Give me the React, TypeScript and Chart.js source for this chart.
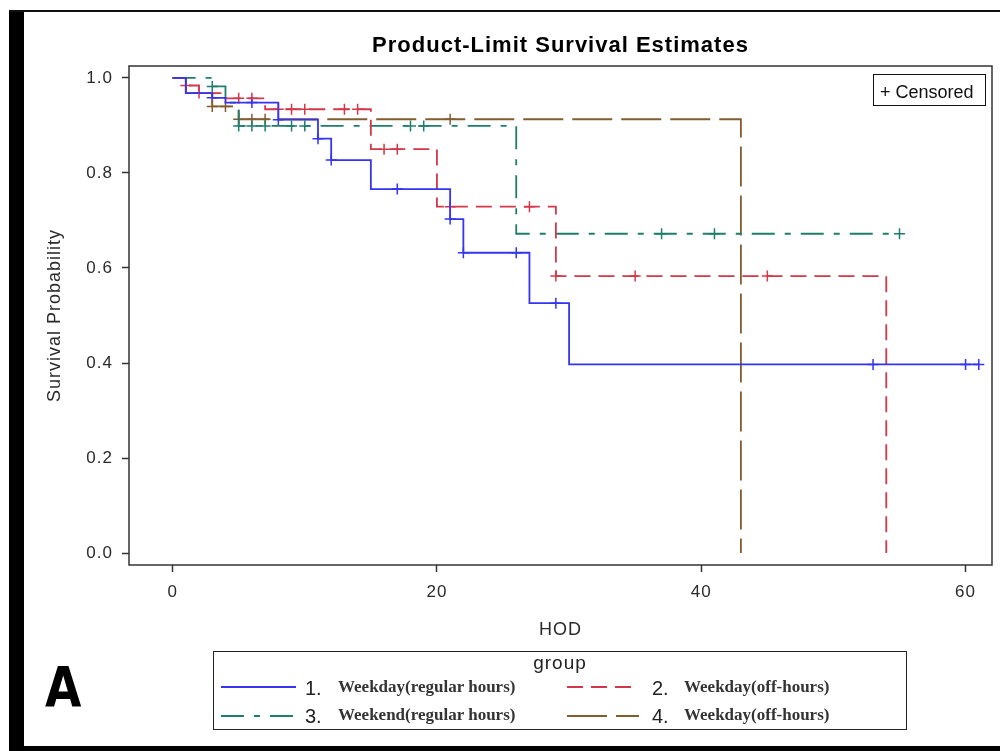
import React, { useEffect, useRef } from 'react';
import { Chart, registerables } from 'chart.js';

Chart.register(...registerables);

// ---- axis settings ----
const xTickValues = [0, 20, 40, 60];
const yTickValues = [0, 0.2, 0.4, 0.6, 0.8, 1.0];
const xMin = -3.3;
const xMax = 62;
const yMin = -0.025;
const yMax = 1.025;

// ---- group labels / styles ----
const groupNumbers = ['1.', '2.', '3.', '4.'];
const groupLabels = ['Weekday(regular hours)', 'Weekday(off-hours)', 'Weekend(regular hours)', 'Weekday(off-hours)'];
const groupColors = ['#3434F2', '#D3374A', '#1F7D6E', '#855C2E'];
const groupDashes: number[][] = [[], [16, 8], [23, 10, 6, 10], [40, 9]];

// ---- Group 1: Weekday(regular hours) ----
const g1Times = [0, 1, 3, 4, 8, 11, 12, 15, 21, 22, 27, 30, 61];
const g1Surv = [1.0, 0.968, 0.958, 0.948, 0.912, 0.872, 0.827, 0.766, 0.703, 0.632, 0.526, 0.397, 0.397];
const g1Censor = [3, 6, 8, 11, 12, 17, 21, 22, 26, 29, 53, 60, 61];

// ---- Group 2: Weekday(off-hours) ----
const g2Times = [0, 1, 2, 4, 7, 15, 20, 29, 54];
const g2Surv = [1.0, 0.984, 0.968, 0.957, 0.934, 0.85, 0.729, 0.583, 0];
const g2Censor = [1, 2, 5, 6, 8, 9, 10, 13, 14, 16, 17, 21, 27, 29, 35, 45];

// ---- Group 3: Weekend(regular hours) ----
const g3Times = [0, 3, 4, 5, 26, 55];
const g3Surv = [1.0, 0.982, 0.948, 0.899, 0.672, 0.672];
const g3Censor = [3, 5, 6, 7, 9, 10, 18, 19, 37, 41, 55];

// ---- Group 4: Weekday(off-hours) ----
const g4Times = [0, 1, 3, 5, 43];
const g4Surv = [1.0, 0.968, 0.94, 0.913, 0];
const g4Censor = [3, 4, 5, 6, 7, 21];

const groupTimes = [g1Times, g2Times, g3Times, g4Times];
const groupSurv = [g1Surv, g2Surv, g3Surv, g4Surv];
const groupCensor = [g1Censor, g2Censor, g3Censor, g4Censor];

function stepPoints(times: number[], surv: number[]) {
  return times.map((t, i) => ({ x: t, y: surv[i] }));
}

function censorPoints(times: number[], surv: number[], cens: number[]) {
  return cens.map((c) => {
    let s = surv[0];
    for (let i = 0; i < times.length; i++) {
      if (times[i] <= c) s = surv[i];
    }
    return { x: c, y: s };
  });
}

const framePlugin = {
  id: 'plotFrame',
  beforeDatasetsDraw(chart: any) {
    const { ctx, chartArea: a } = chart;
    ctx.save();
    ctx.strokeStyle = '#333';
    ctx.lineWidth = 1.5;
    ctx.strokeRect(a.left, a.top, a.right - a.left, a.bottom - a.top);
    ctx.restore();
  },
};

const spacingPlugin = {
  id: 'letterSpacing',
  beforeDraw(chart: any) {
    chart.ctx.letterSpacing = '1px';
  },
  afterDraw(chart: any) {
    chart.ctx.letterSpacing = '0px';
  },
};

const sansFamily = '"Liberation Sans", Arial, sans-serif';

export default function App() {
  const canvasRef = useRef<HTMLCanvasElement | null>(null);

  useEffect(() => {
    const canvas = canvasRef.current;
    if (!canvas) return;

    const lineSets = groupTimes.map((times, i) => ({
      label: groupLabels[i],
      data: stepPoints(times, groupSurv[i]),
      borderColor: groupColors[i],
      backgroundColor: groupColors[i],
      borderWidth: 1.8,
      borderDash: groupDashes[i],
      borderCapStyle: 'butt' as const,
      stepped: 'before' as const,
      pointRadius: 0,
      fill: false,
      tension: 0,
    }));

    const censorSets = groupTimes.map((times, i) => ({
      label: 'Censored ' + groupNumbers[i],
      data: censorPoints(times, groupSurv[i], groupCensor[i]),
      showLine: false,
      pointStyle: 'cross' as const,
      pointRadius: 5.5,
      pointBorderWidth: 1.5,
      pointBorderColor: groupColors[i],
      pointBackgroundColor: groupColors[i],
      borderColor: groupColors[i],
    }));

    const chart = new Chart(canvas, {
      type: 'line',
      data: { datasets: [...lineSets, ...censorSets] as any },
      options: {
        responsive: false,
        animation: false,
        events: [],
        layout: { padding: { left: 40, top: 66, right: 8, bottom: 106 } },
        plugins: {
          legend: { display: false },
          title: { display: false },
          tooltip: { enabled: false },
        },
        scales: {
          x: {
            type: 'linear',
            min: xMin,
            max: xMax,
            afterBuildTicks: (axis: any) => {
              axis.ticks = xTickValues.map((v) => ({ value: v }));
            },
            afterFit: (axis: any) => {
              axis.height = 80;
            },
            grid: {
              drawOnChartArea: false,
              drawTicks: true,
              tickLength: 7,
              tickColor: '#333',
              tickWidth: 1.5,
            },
            border: { display: false },
            ticks: {
              padding: 10,
              color: '#2a2a2a',
              maxRotation: 0,
              autoSkip: false,
              font: { family: sansFamily, size: 17 },
              callback: (v: any) => String(v),
            },
            title: {
              display: true,
              text: 'HOD',
              color: '#2a2a2a',
              font: { family: sansFamily, size: 18 },
              padding: { top: 4, bottom: 4 },
            },
          },
          y: {
            type: 'linear',
            min: yMin,
            max: yMax,
            afterBuildTicks: (axis: any) => {
              axis.ticks = yTickValues.map((v) => ({ value: v }));
            },
            afterFit: (axis: any) => {
              axis.width = 89;
            },
            grid: {
              drawOnChartArea: false,
              drawTicks: true,
              tickLength: 7,
              tickColor: '#333',
              tickWidth: 1.5,
            },
            border: { display: false },
            ticks: {
              padding: 9,
              color: '#2a2a2a',
              autoSkip: false,
              font: { family: sansFamily, size: 17 },
              callback: (v: any) => Number(v).toFixed(1),
            },
            title: {
              display: true,
              text: 'Survival Probability',
              color: '#2a2a2a',
              font: { family: sansFamily, size: 18 },
              padding: { top: 4, bottom: 4 },
            },
          },
        },
      } as any,
      plugins: [framePlugin, spacingPlugin],
    });

    return () => {
      chart.destroy();
    };
  }, []);

  const colLeft = [
    { sample: 221, sampleW: 75, num: 305, text: 338 },
    { sample: 567, sampleW: 72, num: 652, text: 684 },
  ];
  const rowTop = [676, 704];
  const rowLine = [687, 716];

  return (
    <div
      style={{
        position: 'absolute',
        left: 0,
        top: 0,
        width: 1000,
        height: 751,
        background: '#fff',
        overflow: 'hidden',
      }}
    >
      <canvas
        ref={canvasRef}
        width={1000}
        height={751}
        style={{ position: 'absolute', left: 0, top: 0, width: 1000, height: 751 }}
      />

      {/* outer frame */}
      <div style={{ position: 'absolute', left: 9, top: 10, width: 15, height: 741, background: '#000' }} />
      <div style={{ position: 'absolute', left: 9, top: 10, width: 991, height: 2, background: '#111' }} />
      <div style={{ position: 'absolute', left: 9, top: 746, width: 991, height: 5, background: '#000' }} />

      {/* title */}
      <div
        style={{
          position: 'absolute',
          left: 160,
          top: 32,
          width: 801,
          textAlign: 'center',
          fontFamily: sansFamily,
          fontWeight: 'bold',
          fontSize: 22,
          lineHeight: '26px',
          letterSpacing: '1px',
          color: '#000',
          whiteSpace: 'nowrap',
        }}
      >
        Product-Limit Survival Estimates
      </div>

      {/* censored box */}
      <div
        style={{
          position: 'absolute',
          left: 873,
          top: 74,
          width: 113,
          height: 32,
          border: '1.5px solid #111',
          boxSizing: 'border-box',
        }}
      />
      <div
        style={{
          position: 'absolute',
          left: 880,
          top: 81,
          fontFamily: sansFamily,
          fontSize: 18,
          lineHeight: '22px',
          color: '#111',
          whiteSpace: 'nowrap',
        }}
      >
        + Censored
      </div>

      {/* panel letter */}
      <div
        style={{
          position: 'absolute',
          left: 45,
          top: 659,
          fontFamily: '"DejaVu Sans", sans-serif',
          fontWeight: 'bold',
          fontSize: 56,
          lineHeight: 1,
          color: '#000',
          transform: 'scaleX(0.84)',
          transformOrigin: 'left top',
        }}
      >
        A
      </div>

      {/* legend */}
      <div
        style={{
          position: 'absolute',
          left: 213,
          top: 651,
          width: 694,
          height: 79,
          border: '1.5px solid #222',
          boxSizing: 'border-box',
        }}
      />
      <div
        style={{
          position: 'absolute',
          left: 213,
          top: 652,
          width: 694,
          textAlign: 'center',
          fontFamily: sansFamily,
          fontSize: 19,
          lineHeight: '22px',
          letterSpacing: '1px',
          color: '#222',
        }}
      >
        group
      </div>
      {groupLabels.map((label, i) => {
        const c = colLeft[i % 2];
        const r = Math.floor(i / 2);
        return (
          <React.Fragment key={i}>
            <svg
              width={c.sampleW}
              height={6}
              style={{ position: 'absolute', left: c.sample, top: rowLine[r] - 3 }}
            >
              <line
                x1={0}
                y1={3}
                x2={c.sampleW}
                y2={3}
                stroke={groupColors[i]}
                strokeWidth={2}
                strokeDasharray={groupDashes[i].length ? groupDashes[i].join(' ') : undefined}
              />
            </svg>
            <div
              style={{
                position: 'absolute',
                left: c.num,
                top: rowTop[r],
                fontFamily: sansFamily,
                fontSize: 20,
                lineHeight: '24px',
                color: '#222',
                whiteSpace: 'nowrap',
              }}
            >
              {groupNumbers[i]}
            </div>
            <div
              style={{
                position: 'absolute',
                left: c.text,
                top: rowTop[r] - 1,
                fontFamily: '"Liberation Serif", "Times New Roman", serif',
                fontWeight: 'bold',
                fontSize: 17,
                lineHeight: '24px',
                color: '#333',
                whiteSpace: 'nowrap',
              }}
            >
              {label}
            </div>
          </React.Fragment>
        );
      })}
    </div>
  );
}
